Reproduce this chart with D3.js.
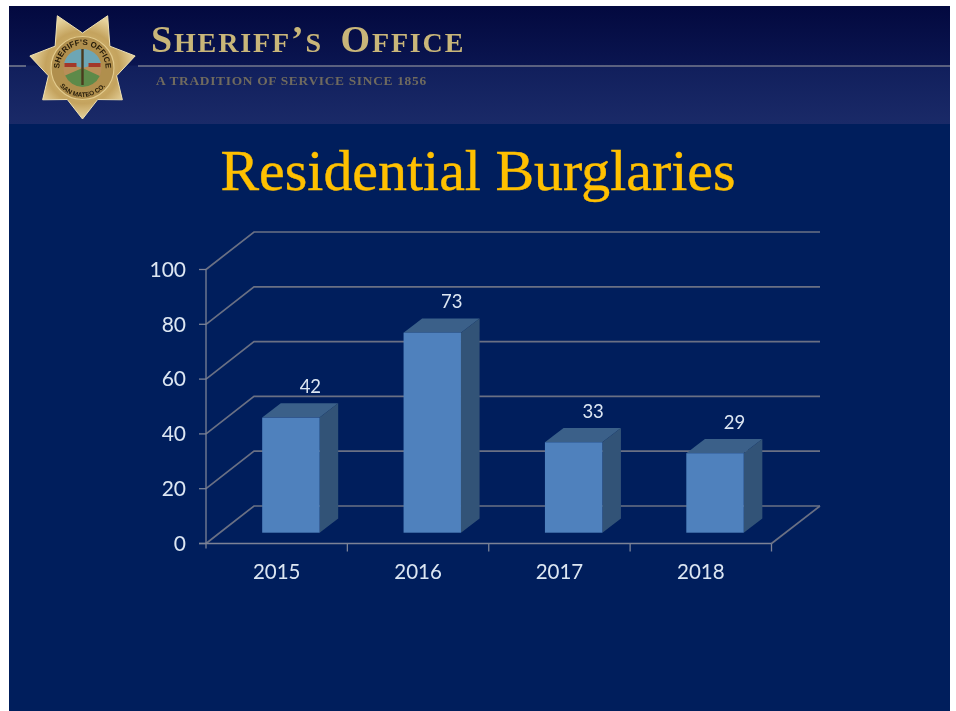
<!DOCTYPE html>
<html><head><meta charset="utf-8">
<script src="https://cdnjs.cloudflare.com/ajax/libs/d3/7.8.5/d3.min.js"></script>
<style>html,body{margin:0;padding:0;background:#fff}svg{display:block}</style></head>
<body><svg id="c" width="956" height="711"></svg>
<script>
const years = ["2015","2016","2017","2018"];
const burglaries = [42,73,33,29];
const yTicks = [0,20,40,60,80,100];
const titleText = "Residential Burglaries";

const svg = d3.select("#c");
const defs = svg.append("defs");
const hg = defs.append("linearGradient").attr("id","hdr").attr("x1",0).attr("x2",0).attr("y1",0).attr("y2",1);
hg.append("stop").attr("offset",0).attr("stop-color","#03093f");
hg.append("stop").attr("offset",0.5).attr("stop-color","#0a1550");
hg.append("stop").attr("offset",0.51).attr("stop-color","#111f5c");
hg.append("stop").attr("offset",1).attr("stop-color","#1a2a68");
const sg = defs.append("radialGradient").attr("id","star");
sg.append("stop").attr("offset",0).attr("stop-color","#e0c684");
sg.append("stop").attr("offset",0.7).attr("stop-color","#c4a35e");
sg.append("stop").attr("offset",1).attr("stop-color","#e6d29c");
defs.append("filter").attr("id","soft").append("feGaussianBlur").attr("stdDeviation",0.45);
defs.append("filter").attr("id","soft2").append("feGaussianBlur").attr("stdDeviation",0.3);

// slide
svg.append("rect").attr("x",9).attr("y",6).attr("width",941).attr("height",705).attr("fill","#001e5c");
svg.append("rect").attr("x",9).attr("y",6).attr("width",941).attr("height",118).attr("fill","url(#hdr)");
svg.selectAll(".hl").data([[9,26],[138,950]]).join("line").attr("x1",d=>d[0]).attr("x2",d=>d[1]).attr("y1",66).attr("y2",66)
  .attr("stroke","#74788c").attr("stroke-width",1.6);

// header text
const gold = "#c9b679";
const hd = svg.append("text").attr("x",151).attr("y",52).attr("font-family","Liberation Serif").attr("fill",gold)
  .attr("font-weight","700").attr("letter-spacing",1.85).attr("filter","url(#soft2)");
[["S",38],["HERIFF",28],["’",38],["S",28],["\u00a0\u00a0",28],["O",38],["FFICE",28]].forEach(([t,s])=>
  hd.append("tspan").attr("font-size",s).text(t));
svg.append("text").attr("x",156).attr("y",84.5).attr("font-family","Liberation Serif").attr("font-size",13.4)
  .attr("font-weight","700").attr("letter-spacing",0.7).attr("fill","#6f6a5e").attr("filter","url(#soft2)")
  .text("A TRADITION OF SERVICE SINCE 1856");

// badge
const bx=82.5, by=68;
const pointR=[51,51,54,58,58,54,51];
const starPts = d3.range(14).map(i=>{
  const a=Math.PI/2+i*Math.PI/7;
  const r=i%2===0?pointR[i/2]:35;
  return [bx+r*Math.cos(a), by+r*Math.sin(a)];
});
const badge = svg.append("g").attr("filter","url(#soft)");
badge.append("polygon").attr("points",starPts.join(" ")).attr("fill","url(#star)").attr("stroke","#f0e2b4").attr("stroke-width",1);
badge.append("circle").attr("cx",bx).attr("cy",by).attr("r",32).attr("fill","#b08f4e");
badge.append("circle").attr("cx",bx).attr("cy",by).attr("r",31.5).attr("fill","none").attr("stroke","#e3cb8c").attr("stroke-width",1.2);
badge.append("circle").attr("cx",bx).attr("cy",by).attr("r",19).attr("fill","#b98e58");
badge.append("path").attr("d",d3.arc()({innerRadius:0,outerRadius:19,startAngle:-1.3,endAngle:1.3})).attr("transform",`translate(${bx},${by})`).attr("fill","#6da6b5");
badge.append("path").attr("d",d3.arc()({innerRadius:0,outerRadius:19,startAngle:2.0,endAngle:4.3})).attr("transform",`translate(${bx},${by})`).attr("fill","#5d8a48");
badge.append("rect").attr("x",bx-18).attr("y",by-5).attr("width",12).attr("height",4).attr("fill","#a3392c");
badge.append("rect").attr("x",bx+6).attr("y",by-5).attr("width",12).attr("height",4).attr("fill","#a3392c");
badge.append("rect").attr("x",bx-1.2).attr("y",by-19).attr("width",2.4).attr("height",36).attr("fill","#4a3a1e");
badge.append("path").attr("id","ringTop").attr("d",`M${bx-1},${by+23} A23,23 0 1 1 ${bx+1},${by+23}`).attr("fill","none");
badge.append("path").attr("id","ringBot").attr("d",`M${bx-1},${by-29} A29,29 0 1 0 ${bx+1},${by-29}`).attr("fill","none");
badge.append("text").attr("font-family","Liberation Sans").attr("font-size",8).attr("font-weight","700").attr("fill","#241a08")
  .append("textPath").attr("href","#ringTop").attr("startOffset","50%").attr("text-anchor","middle").text("SHERIFF'S OFFICE");
badge.append("text").attr("font-family","Liberation Sans").attr("font-size",6.5).attr("font-weight","700").attr("fill","#241a08")
  .append("textPath").attr("href","#ringBot").attr("startOffset","50%").attr("text-anchor","middle").text("SAN MATEO CO.");

// title
svg.append("text").attr("x",478).attr("y",190).attr("text-anchor","middle").attr("font-family","Liberation Serif")
  .attr("font-size",57.9).attr("fill","#ffc000").attr("stroke","#ffc000").attr("stroke-width",0.4).attr("filter","url(#soft2)").text(titleText);

// chart
const x = d3.scaleBand().domain(years).range([206,771.5]).paddingInner(0);
const y = d3.scaleLinear().domain([0,100]).range([543.5,269.5]);
const depthX=48, depthY=37.5;
const barDX=18.6, barDY=14.3;
const insetX=14.2, insetY=10.8;
const barW=57.4;
const gridC="#6a7084", axisC="#7b8296";
const chart = svg.append("g").attr("filter","url(#soft2)");

chart.selectAll(".grid").data(yTicks).join("path").attr("fill","none").attr("stroke",gridC).attr("stroke-width",1.7)
  .attr("d",d=>`M${x.range()[0]},${y(d)} L${x.range()[0]+depthX},${y(d)-depthY} L820,${y(d)-depthY}`);
chart.append("path").attr("fill","none").attr("stroke",gridC).attr("stroke-width",1.7)
  .attr("d",`M${x.range()[1]},${y(0)} L820,${y(0)-depthY}`);
chart.append("line").attr("x1",206).attr("x2",206).attr("y1",y(100)).attr("y2",y(0)+5).attr("stroke",axisC).attr("stroke-width",1.3);
chart.selectAll(".yt").data(yTicks).join("line").attr("x1",199).attr("x2",206).attr("y1",d=>y(d)).attr("y2",d=>y(d)).attr("stroke",axisC).attr("stroke-width",1.3);
chart.append("line").attr("x1",199).attr("x2",x.range()[1]).attr("y1",y(0)).attr("y2",y(0)).attr("stroke",axisC).attr("stroke-width",1.5);
chart.selectAll(".xt").data(years).join("line").attr("x1",d=>x(d)+x.step()).attr("x2",d=>x(d)+x.step())
  .attr("y1",y(0)).attr("y2",y(0)+8).attr("stroke",axisC).attr("stroke-width",1.3);

const left = d=>x(d)+x.step()/2-barW/2+insetX;
const bars = chart.selectAll(".bar").data(years.map((k,i)=>({k,v:burglaries[i]}))).join("g");
const baseY = y(0)-insetY;
const barH = d=>y(0)-y(d.v);
bars.append("polygon").attr("fill","#3a6189").attr("points",d=>{
  const l=left(d.k),t=baseY-barH(d);
  return [[l,t],[l+barW,t],[l+barW+barDX,t-barDY],[l+barDX,t-barDY]].join(" ");});
bars.append("polygon").attr("fill","#335377").attr("points",d=>{
  const r=left(d.k)+barW,t=baseY-barH(d);
  return [[r,t],[r+barDX,t-barDY],[r+barDX,baseY-barDY],[r,baseY]].join(" ");});
bars.append("rect").attr("x",d=>left(d.k)).attr("width",barW).attr("y",d=>baseY-barH(d)).attr("height",barH).attr("fill","#4f81bd");

const txt="#dce6f2", ff="Lato, 'Open Sans'";
chart.selectAll(".yl").data(yTicks).join("text").attr("x",186).attr("y",d=>y(d)+7.2).attr("text-anchor","end")
  .attr("font-family",ff).attr("font-size",21).attr("fill",txt).text(d=>d);
chart.selectAll(".xl").data(years).join("text").attr("x",d=>x(d)+x.step()/2).attr("y",579).attr("text-anchor","middle")
  .attr("font-family",ff).attr("font-size",20.5).attr("fill",txt).text(d=>d);
bars.append("text").attr("x",d=>left(d.k)+barW/2+19.5).attr("y",d=>baseY-barH(d)-24.5)
  .attr("text-anchor","middle").attr("font-family",ff).attr("font-size",18.5).attr("fill",txt).text(d=>d.v);
</script></body></html>
